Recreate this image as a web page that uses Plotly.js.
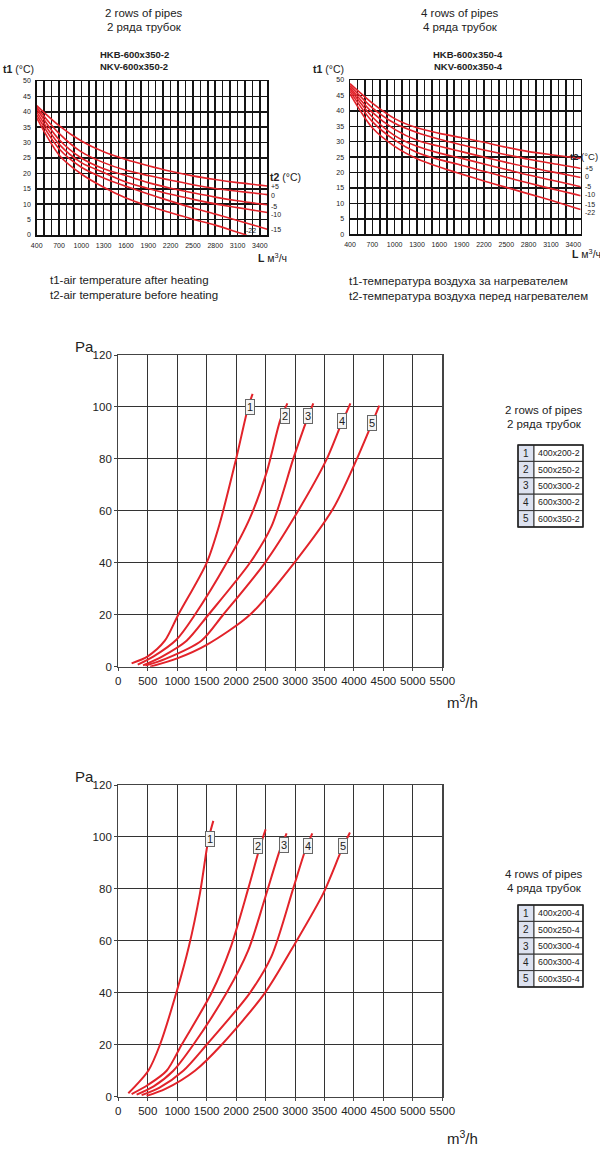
<!DOCTYPE html>
<html><head><meta charset="utf-8">
<script src="https://cdn.plot.ly/plotly-3.0.1.min.js"></script>
<style>html,body{margin:0;padding:0;background:#fff;} #chart{width:600px;height:1155px;}</style>
</head><body><div id="chart"></div>
<script>
// ---------- DATA ----------
// Heater charts: t1 (°C) vs L (m3/h) for several t2
const flowT1 = [400,700,1000,1300,1600,1900,2200,2500,2800,3100,3400,3500];
const flowT1End22 = [400,700,1000,1300,1600,1900,2200,2500,2800,3100,3220];
const t2Labels = ['+5','0','-5','-10','-15','-22'];
const heaterTicks = [400,700,1000,1300,1600,1900,2200,2500,2800,3100,3400];

// 2 rows of pipes (HKB/NKV-600x350-2)
const r2_p5  = [42,35.5,30.5,27,24.5,22.5,20.7,19.2,18,17,16.2,15.9];
const r2_0   = [41.5,33,27,23.5,21,19.3,17.8,16.3,15.1,14.2,13.4,13.1];
const r2_m5  = [41,31,25,21.5,19.3,17,15.2,13.7,12.3,11.1,10.1,9.8];
const r2_m10 = [40,29.5,23.5,20.3,17.2,15.1,13.2,11.6,10.1,8.9,7.7,7.3];
const r2_m15 = [39,28,22,18.5,15.8,13.3,11,8.8,6.8,4.7,2.6,1.9];
const r2_m22 = [38,26,19.8,15.5,12,9.4,7.2,5.1,3.2,0.9,0];

// 4 rows of pipes (HKB/NKV-600x350-4)
const r4_p5  = [48.8,42.5,37.5,34.5,32.7,31.3,29.8,28.2,26.8,25.8,24.9,24.6];
const r4_0   = [48.2,41,36,33,30.8,29,27.3,25.8,24.3,23,21.8,21.3];
const r4_m5  = [47.6,39.5,34,30.5,28.5,26.8,25,23.3,21.7,20.3,18.9,18.4];
const r4_m10 = [47,38,32,28.5,26.3,24.6,22.8,21,19.2,17.6,16,15.4];
const r4_m15 = [46.3,36.5,30.5,26.5,24.2,22.4,20.4,18.5,16.6,14.8,13.1,12.5];
const r4_m22 = [45.5,34.5,28.5,24.5,21.8,19.5,17.3,15.2,13.1,11,8.8,8];

// Pressure drop (Pa) vs air flow (m3/h), 2 rows
const p2c1_L = [226,500,790,1018,1500,1720,2000,2200,2280];
const p2c1_P = [1.3,4,10,20,40,55,80,99.5,105];
const p2c2_L = [330,600,990,1300,1840,2230,2520,2750,2870];
const p2c2_P = [0.8,4,10.5,20,40,57,75,95,101.4];
const p2c3_L = [420,750,1160,1530,2235,2600,2970,3200,3310];
const p2c3_P = [0.5,4,10,20,40,54,80,95,101.4];
const p2c4_L = [460,800,1410,1780,2490,3000,3540,3760,3940];
const p2c4_P = [0.4,3,10,20,40,58,80,92,101.4];
const p2c5_L = [540,1000,1500,2235,3000,3650,4050,4430];
const p2c5_P = [0,3.2,8.4,20,40.4,61,80,100.5];

// Pressure drop, 4 rows
const p4c1_L = [170,509,707,990,1200,1386,1528,1613];
const p4c1_P = [1.3,10,20,40.4,58,78.3,98.8,106.2];
const p4c2_L = [226,500,820,1075,1584,1900,2207,2405,2501];
const p4c2_P = [1,4.5,10,20,40,57,80.2,96.2,102.9];
const p4c3_L = [311,600,934,1273,1839,2200,2490,2744,2857];
const p4c3_P = [0.8,4,10,20,40,56,76.4,95,101.4];
const p4c4_L = [396,700,1103,1499,2235,2600,2970,3168,3293];
const p4c4_P = [0.6,3.5,10,20,40,54,80.2,94.5,101.4];
const p4c5_L = [481,800,1301,1754,2490,3000,3480,3791,3932];
const p4c5_P = [0.3,3,10,20,40,59,78.3,95,101.7];

const curveIds = ['1','2','3','4','5'];
const sizes2 = ['400x200-2','500x250-2','500x300-2','600x300-2','600x350-2'];
const sizes4 = ['400x200-4','500x250-4','500x300-4','600x300-4','600x350-4'];

// ---------- LAYOUT HELPERS ----------
const W=600,H=1155;
const PX = x => x/W, PY = y => 1 - y/H;
const FONT = 'Arial, "Liberation Sans", sans-serif';
const CAP = 11.5;
const RED = '#e2232a';
const ann = [], shapes = [];
function txt(x,y,text,o={}){
  ann.push({xref:'paper',yref:'paper',x:PX(x),y:PY(y),text:text,showarrow:false,
    xanchor:o.xa||'left',yanchor:'middle',
    font:{size:o.size||12,color:o.color||'#222',family:FONT}});
}
function box(x,y,t){
  ann.push({xref:'paper',yref:'paper',x:PX(x),y:PY(y),text:t,showarrow:false,
    xanchor:'center',yanchor:'middle',bgcolor:'#f4f4f4',bordercolor:'#666',borderwidth:1,borderpad:1,
    font:{size:11,color:'#222',family:FONT}});
}
function table(top, labels){
  const x0=518,x1=534,x2=583,rh=16.4;
  labels.forEach((lab,i)=>{
    const y0=top+i*rh, y1=y0+rh;
    shapes.push({type:'rect',xref:'paper',yref:'paper',x0:PX(x0),x1:PX(x1),y0:PY(y1),y1:PY(y0),
      fillcolor:'#dde2f0',line:{color:'#333',width:1}});
    shapes.push({type:'rect',xref:'paper',yref:'paper',x0:PX(x1),x1:PX(x2),y0:PY(y1),y1:PY(y0),
      fillcolor:'#ffffff',line:{color:'#333',width:1}});
    txt((x0+x1)/2,(y0+y1)/2,curveIds[i],{xa:'center',size:10});
    txt((x1+x2)/2,(y0+y1)/2,lab,{xa:'center',size:8.8});
  });
  shapes.push({type:'rect',xref:'paper',yref:'paper',x0:PX(x0),x1:PX(x2),y0:PY(top+5*rh),y1:PY(top),
    line:{color:'#222',width:1.5}});
}

// ---------- TRACES ----------
const traces = [];
function line(x,y,xa,ya,w){
  traces.push({x:x,y:y,xaxis:xa,yaxis:ya,type:'scatter',mode:'lines',hoverinfo:'skip',showlegend:false,
    line:{color:RED,width:w,shape:'spline',smoothing:0.8}});
}
[r2_p5,r2_0,r2_m5,r2_m10,r2_m15].forEach(s=>line(flowT1,s,'x','y',1.6));
line(flowT1End22,r2_m22,'x','y',1.6);
[r4_p5,r4_0,r4_m5,r4_m10,r4_m15,r4_m22].forEach(s=>line(flowT1,s,'x2','y2',1.6));
line(p2c1_L,p2c1_P,'x3','y3',2); line(p2c2_L,p2c2_P,'x3','y3',2); line(p2c3_L,p2c3_P,'x3','y3',2);
line(p2c4_L,p2c4_P,'x3','y3',2); line(p2c5_L,p2c5_P,'x3','y3',2);
line(p4c1_L,p4c1_P,'x4','y4',2); line(p4c2_L,p4c2_P,'x4','y4',2); line(p4c3_L,p4c3_P,'x4','y4',2);
line(p4c4_L,p4c4_P,'x4','y4',2); line(p4c5_L,p4c5_P,'x4','y4',2);

// ---------- AXES ----------
function heatX(l,r,anchor){
  return {domain:[PX(l),PX(r)],range:[400,3500],anchor:anchor,tickmode:'array',tickvals:heaterTicks,
    ticktext:heaterTicks.map(String),showgrid:true,gridcolor:'#151515',gridwidth:1.5,
    minor:{tick0:400,dtick:100,showgrid:true,gridcolor:'#151515',gridwidth:1.5},
    showline:true,mirror:true,linecolor:'#111',linewidth:1.5,zeroline:false,ticks:'',
    tickfont:{size:7,color:'#222',family:FONT},ticklabelstandoff:3,fixedrange:true};
}
function heatY(t,b,anchor){
  return {domain:[PY(b),PY(t)],range:[0,50],dtick:5,anchor:anchor,showgrid:true,gridcolor:'#151515',gridwidth:1.5,
    showline:true,mirror:true,linecolor:'#111',linewidth:1.5,zeroline:false,ticks:'',
    tickfont:{size:7,color:'#222',family:FONT},ticklabelstandoff:3,fixedrange:true};
}
function presX(anchor){
  return {domain:[PX(118.3),PX(442.3)],range:[0,5500],dtick:500,anchor:anchor,showgrid:true,gridcolor:'#333',gridwidth:1,
    showline:true,mirror:true,linecolor:'#444',linewidth:1.2,zeroline:false,ticks:'outside',ticklen:3,tickcolor:'#444',
    tickfont:{size:11.5,color:'#222',family:FONT},fixedrange:true};
}
function presY(t,b,anchor){
  return {domain:[PY(b),PY(t)],range:[0,120],dtick:20,anchor:anchor,showgrid:true,gridcolor:'#333',gridwidth:1,
    showline:true,mirror:true,linecolor:'#444',linewidth:1.2,zeroline:false,ticks:'outside',ticklen:3,tickcolor:'#444',
    tickfont:{size:11.5,color:'#222',family:FONT},fixedrange:true};
}

// ---------- TEXTS ----------
// top-left
txt(144,13,'2 rows of pipes',{xa:'center',size:CAP});
txt(144,27,'2 ряда трубок',{xa:'center',size:CAP});
txt(134,54,'<b>HKB-600x350-2</b>',{xa:'center',size:9.5});
txt(134,66,'<b>NKV-600x350-2</b>',{xa:'center',size:9.5});
txt(1,69,'<b>t1</b> (°C)',{size:10.5});
txt(268,177,'<b>t2</b> (°C)',{size:10.5});
const endY2 = [187,196,206,214,229];
t2Labels.slice(0,5).forEach((l,i)=>txt(269,endY2[i],l,{size:7}));
txt(244,231,t2Labels[5],{size:7});
txt(256,258,'<b>L</b> м<sup>3</sup>/ч',{size:10.5});
txt(48,280,'t1-air temperature after heating',{size:CAP});
txt(48,295,'t2-air temperature before heating',{size:CAP});
// top-right
txt(460,13,'4 rows of pipes',{xa:'center',size:CAP});
txt(460,27,'4 ряда трубок',{xa:'center',size:CAP});
txt(468,54,'<b>HKB-600x350-4</b>',{xa:'center',size:9.5});
txt(468,66,'<b>NKV-600x350-4</b>',{xa:'center',size:9.5});
txt(311,69,'<b>t1</b> (°C)',{size:10.5});
txt(600,157,'<b>t2</b> (°C)',{xa:'right',size:9.5});
const endY4 = [168,177,186,195,205,212];
t2Labels.forEach((l,i)=>txt(583,endY4[i],l,{size:7}));
txt(570,253,'<b>L</b> м<sup>3</sup>/ч',{size:10.5});
txt(347,281,'t1-температура воздуха за нагревателем',{size:CAP});
txt(347,296,'t2-температура воздуха перед нагревателем',{size:CAP});
// middle
txt(73,346,'Pa',{size:15});
txt(445,701,'m<sup>3</sup>/h',{size:15});
txt(544,410,'2 rows of pipes',{xa:'center',size:CAP});
txt(544,424,'2 ряда трубок',{xa:'center',size:CAP});
table(445,sizes2);
box(250,406.7,curveIds[0]); box(285,415.7,curveIds[1]); box(307.7,415.7,curveIds[2]);
box(341.7,421,curveIds[3]); box(371.7,423.3,curveIds[4]);
// bottom
txt(73,776,'Pa',{size:15});
txt(445,1137,'m<sup>3</sup>/h',{size:15});
txt(544,874,'4 rows of pipes',{xa:'center',size:CAP});
txt(544,888,'4 ряда трубок',{xa:'center',size:CAP});
table(905,sizes4);
box(210,839,curveIds[0]); box(258.3,846,curveIds[1]); box(284,845,curveIds[2]);
box(308.3,846,curveIds[3]); box(343.3,845.7,curveIds[4]);

const layout = {
  width:W,height:H,margin:{l:0,r:0,t:0,b:0},paper_bgcolor:'#fff',plot_bgcolor:'#fff',
  font:{family:FONT,color:'#222'},showlegend:false,
  xaxis:heatX(36.7,267.3,'y'), yaxis:heatY(81,235,'x'),
  xaxis2:heatX(350,580.7,'y2'), yaxis2:heatY(80,234.3,'x2'),
  xaxis3:presX('y3'), yaxis3:presY(355,666.7,'x3'),
  xaxis4:presX('y4'), yaxis4:presY(785,1096.7,'x4'),
  annotations:ann, shapes:shapes
};
Plotly.newPlot('chart',traces,layout,{staticPlot:true,displayModeBar:false});
</script></body></html>
